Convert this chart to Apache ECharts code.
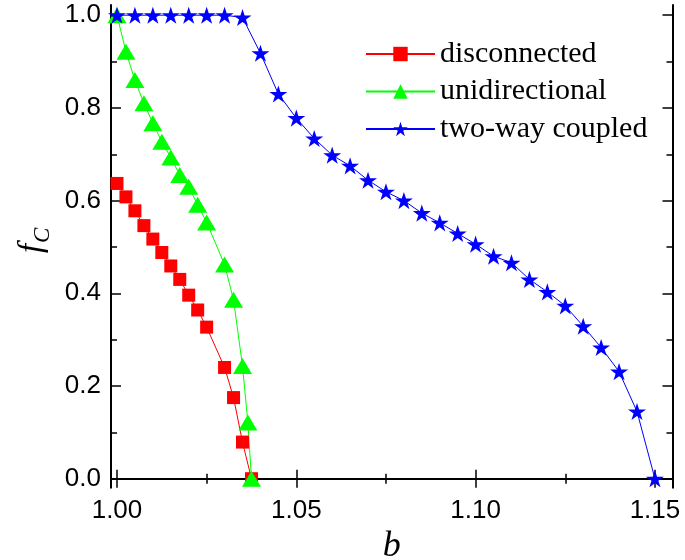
<!DOCTYPE html>
<html><head><meta charset="utf-8">
<script src="https://cdn.jsdelivr.net/npm/echarts@6/dist/echarts.min.js"></script>
<style>html,body{margin:0;padding:0;background:#fff}#c{width:685px;height:560px}</style>
</head><body><div id="c"></div>
<script>
const seriesNames = ['disconnected', 'unidirectional', 'two-way coupled'];

const bDisconnected = [1.000, 1.0025, 1.005, 1.0075, 1.010, 1.0125, 1.015, 1.0175, 1.020, 1.0225, 1.025, 1.030, 1.0325, 1.035, 1.0375];
const fDisconnected = [0.637, 0.608, 0.578, 0.546, 0.517, 0.488, 0.459, 0.430, 0.396, 0.364, 0.327, 0.240, 0.175, 0.079, 0.0];

const bUnidirectional = [1.000, 1.0025, 1.005, 1.0075, 1.010, 1.0125, 1.015, 1.0175, 1.020, 1.0225, 1.025, 1.030, 1.0325, 1.035, 1.0365, 1.0375];
const fUnidirectional = [1.0, 0.921, 0.860, 0.810, 0.767, 0.727, 0.693, 0.655, 0.630, 0.591, 0.553, 0.462, 0.386, 0.243, 0.121, 0.0];

const bTwoWay = [1.000, 1.005, 1.010, 1.015, 1.020, 1.025, 1.030, 1.035, 1.040, 1.045, 1.050, 1.055, 1.060, 1.065, 1.070, 1.075, 1.080, 1.085, 1.090, 1.095, 1.100, 1.105, 1.110, 1.115, 1.120, 1.125, 1.130, 1.135, 1.140, 1.145, 1.150];
const fTwoWay = [1.0, 1.0, 1.0, 1.0, 1.0, 1.0, 1.0, 0.995, 0.918, 0.830, 0.778, 0.734, 0.698, 0.675, 0.644, 0.619, 0.600, 0.573, 0.552, 0.529, 0.506, 0.480, 0.466, 0.430, 0.403, 0.373, 0.329, 0.283, 0.231, 0.145, 0.0];

const xMajorTicks = [1.00, 1.05, 1.10, 1.15];
const xMinorTicks = [1.025, 1.075, 1.125];
const yMajorTicks = [0.0, 0.2, 0.4, 0.6, 0.8, 1.0];
const yMinorTicks = [0.1, 0.3, 0.5, 0.7, 0.9];
const xRange = [0.99833, 1.1549];
const yRange = [-0.0194, 1.022];

const pairs = (xs, ys) => xs.map((x, i) => [x, ys[i]]);
const STAR = 'path://M100 0 L122.45 69.1 L195.11 69.1 L136.33 111.8 L158.78 180.9 L100 138.2 L41.22 180.9 L63.67 111.8 L4.89 69.1 L77.55 69.1 Z';

const labelStyle = {fontFamily: 'Liberation Sans', fontSize: 26, color: '#000', margin: 10};
const lineStyle = {show: true, lineStyle: {color: '#000', width: 2}};

function makeAxis(kind, position, ticks, len, showLine, labelTicks, digits) {
  return {
    type: 'value', position: position,
    min: kind === 'x' ? xRange[0] : yRange[0],
    max: kind === 'x' ? xRange[1] : yRange[1],
    axisLine: showLine ? lineStyle : {show: false},
    axisTick: {show: true, inside: true, length: len, customValues: ticks, lineStyle: {color: '#000', width: 1.5}},
    splitLine: {show: false},
    axisLabel: labelTicks ? Object.assign({show: true, customValues: labelTicks, formatter: v => Number(v).toFixed(digits)}, labelStyle) : {show: false}
  };
}

const xAxes = [
  makeAxis('x', 'bottom', xMajorTicks, 9, true, xMajorTicks, 2),
  makeAxis('x', 'bottom', xMinorTicks, 5, false, null),
  makeAxis('x', 'top', xMajorTicks, 9, true, null),
  makeAxis('x', 'top', xMinorTicks, 5, false, null)
];
xAxes[0].name = 'b';
xAxes[0].nameLocation = 'middle';
xAxes[0].nameGap = 38;
xAxes[0].nameTextStyle = {fontFamily: 'Liberation Serif', fontStyle: 'italic', fontSize: 36, color: '#000'};

const yAxes = [
  makeAxis('y', 'left', yMajorTicks, 10, true, yMajorTicks, 1),
  makeAxis('y', 'left', yMinorTicks, 6, false, null),
  makeAxis('y', 'right', yMajorTicks, 10, true, null),
  makeAxis('y', 'right', yMinorTicks, 6, false, null)
];
yAxes[0].name = '{f|f}{c|C}';
yAxes[0].nameLocation = 'middle';
yAxes[0].nameRotate = 90;
yAxes[0].nameGap = 52;
yAxes[0].nameTextStyle = {
  color: '#000',
  padding: [0, 0, 0, 12],
  rich: {
    f: {fontFamily: 'Liberation Serif', fontStyle: 'italic', fontSize: 33, lineHeight: 36, verticalAlign: 'top', color: '#000'},
    c: {fontFamily: 'Liberation Serif', fontStyle: 'italic', fontSize: 23, lineHeight: 23, padding: [15, 0, 0, 1], verticalAlign: 'top', color: '#000'}
  }
};

const option = {
  animation: false,
  backgroundColor: '#fff',
  grid: {left: 111, right: 12.5, top: 5, bottom: 72.3, containLabel: false, outerBoundsMode: 'none'},
  xAxis: xAxes,
  yAxis: yAxes,
  legend: {
    orient: 'vertical', left: 360, top: 34,
    itemWidth: 69, itemHeight: 18, itemGap: 7.5,
    data: seriesNames,
    textStyle: {fontFamily: 'Liberation Serif', fontSize: 30, lineHeight: 30, color: '#000'}
  },
  series: [
    {name: seriesNames[0], type: 'line', data: pairs(bDisconnected, fDisconnected), symbol: 'rect', symbolSize: 13,
     itemStyle: {color: '#ff0000'}, lineStyle: {color: '#ff0000', width: 1}, xAxisIndex: 0, yAxisIndex: 0},
    {name: seriesNames[1], type: 'line', data: pairs(bUnidirectional, fUnidirectional), symbol: 'triangle', symbolSize: [19, 16],
     itemStyle: {color: '#00ff00'}, lineStyle: {color: '#00ff00', width: 1}, xAxisIndex: 0, yAxisIndex: 0},
    {name: seriesNames[2], type: 'line', data: pairs(bTwoWay, fTwoWay), symbol: STAR, symbolSize: 18, symbolKeepAspect: true,
     itemStyle: {color: '#0000ff'}, lineStyle: {color: '#0000ff', width: 1}, xAxisIndex: 0, yAxisIndex: 0}
  ]
};
const chart = echarts.init(document.getElementById('c'), null, {renderer: 'canvas'});
chart.setOption(option);
</script>
</body></html>
